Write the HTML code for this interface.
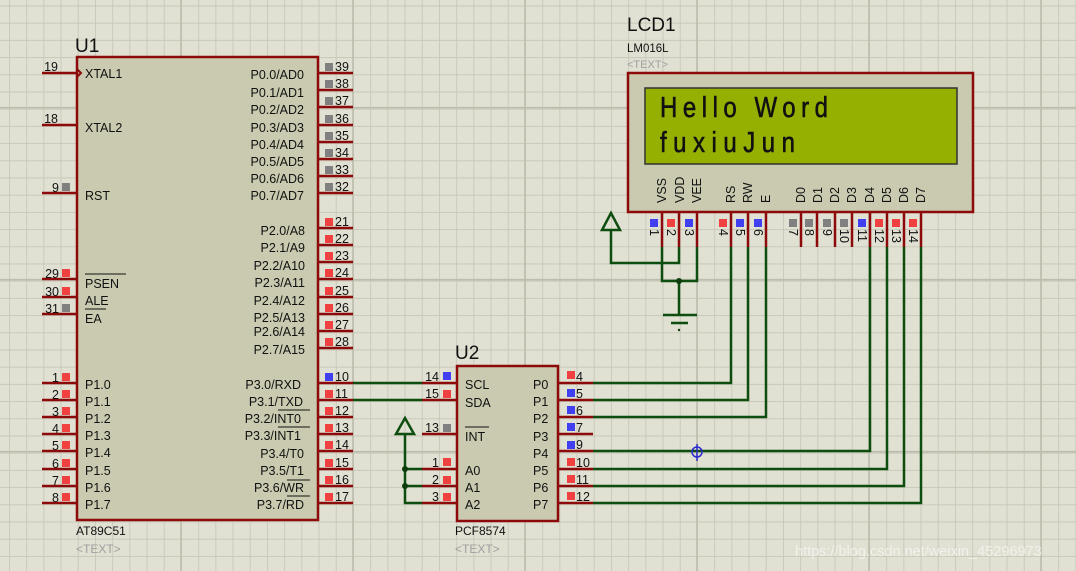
<!DOCTYPE html>
<html><head><meta charset="utf-8"><style>
html,body{margin:0;padding:0;width:1076px;height:571px;overflow:hidden;background:#e0e0d3}
svg{display:block}
text{font-family:"Liberation Sans",sans-serif;fill:#111}
.n{font-size:12.5px}
.l{font-size:12.5px}
.pr{stroke:#8c0a0a;stroke-width:2.5}
.w{stroke:#0d4d0d;stroke-width:2.5;fill:none}
.g{fill:#808080}.r{fill:#f04040}.b{fill:#4040f0}
</style></head><body>
<svg width="1076" height="571" viewBox="0 0 1076 571" xmlns="http://www.w3.org/2000/svg">
<defs>
<pattern id="grid" x="9" y="5.5" width="17.2" height="17.2" patternUnits="userSpaceOnUse">
<path d="M0 0V17.2M0 0H17.2" stroke="#c6c6b6" stroke-width="1.6" fill="none"/>
</pattern>
</defs>
<rect width="1076" height="571" fill="#e0e0d3"/>
<rect width="1076" height="571" fill="url(#grid)"/>
<g stroke="#bdbdad" stroke-width="1.6">
<line x1="181" y1="0" x2="181" y2="571"/><line x1="353" y1="0" x2="353" y2="571"/><line x1="525" y1="0" x2="525" y2="571"/><line x1="697" y1="0" x2="697" y2="571"/><line x1="869" y1="0" x2="869" y2="571"/><line x1="1041" y1="0" x2="1041" y2="571"/>
<line x1="0" y1="107.7" x2="1076" y2="107.7"/><line x1="0" y1="279.7" x2="1076" y2="279.7"/><line x1="0" y1="451.7" x2="1076" y2="451.7"/>
</g>

<!-- U1 -->
<text x="75" y="52" style="font-size:19px">U1</text>
<rect x="77" y="57" width="241" height="463" fill="#cacab0" stroke="#8c0a0a" stroke-width="2.5"/>
<text x="76" y="535" class="l" style="font-size:12px">AT89C51</text>
<text x="76" y="553" style="font-size:12px;fill:#a0a0a0">&lt;TEXT&gt;</text>
<g class="pr">
<line x1="42" y1="73" x2="77" y2="73"/><line x1="42" y1="125" x2="77" y2="125"/><line x1="42" y1="193" x2="77" y2="193"/>
<line x1="42" y1="279" x2="77" y2="279"/><line x1="42" y1="297" x2="77" y2="297"/><line x1="42" y1="314" x2="77" y2="314"/>
<line x1="42" y1="383" x2="77" y2="383"/><line x1="42" y1="400" x2="77" y2="400"/><line x1="42" y1="417" x2="77" y2="417"/><line x1="42" y1="434" x2="77" y2="434"/><line x1="42" y1="451" x2="77" y2="451"/><line x1="42" y1="469" x2="77" y2="469"/><line x1="42" y1="486" x2="77" y2="486"/><line x1="42" y1="503" x2="77" y2="503"/>
<line x1="318" y1="73" x2="353" y2="73"/><line x1="318" y1="90" x2="353" y2="90"/><line x1="318" y1="107" x2="353" y2="107"/><line x1="318" y1="125" x2="353" y2="125"/><line x1="318" y1="142" x2="353" y2="142"/><line x1="318" y1="159" x2="353" y2="159"/><line x1="318" y1="176" x2="353" y2="176"/><line x1="318" y1="193" x2="353" y2="193"/>
<line x1="318" y1="228" x2="353" y2="228"/><line x1="318" y1="245" x2="353" y2="245"/><line x1="318" y1="262" x2="353" y2="262"/><line x1="318" y1="279" x2="353" y2="279"/><line x1="318" y1="297" x2="353" y2="297"/><line x1="318" y1="314" x2="353" y2="314"/><line x1="318" y1="331" x2="353" y2="331"/><line x1="318" y1="348" x2="353" y2="348"/>
<line x1="318" y1="383" x2="353" y2="383"/><line x1="318" y1="400" x2="353" y2="400"/><line x1="318" y1="417" x2="353" y2="417"/><line x1="318" y1="434" x2="353" y2="434"/><line x1="318" y1="451" x2="353" y2="451"/><line x1="318" y1="469" x2="353" y2="469"/><line x1="318" y1="486" x2="353" y2="486"/><line x1="318" y1="503" x2="353" y2="503"/>
</g>
<path d="M77 69 L81 73 L77 77" stroke="#8c0a0a" stroke-width="2" fill="none"/>
<rect class="g" x="62" y="183" width="8" height="8"/>
<rect class="r" x="62" y="269" width="8" height="8"/><rect class="r" x="62" y="287" width="8" height="8"/><rect class="g" x="62" y="304" width="8" height="8"/>
<rect class="r" x="62" y="373" width="8" height="8"/><rect class="r" x="62" y="390" width="8" height="8"/><rect class="r" x="62" y="407" width="8" height="8"/><rect class="r" x="62" y="424" width="8" height="8"/><rect class="r" x="62" y="441" width="8" height="8"/><rect class="r" x="62" y="459" width="8" height="8"/><rect class="r" x="62" y="476" width="8" height="8"/><rect class="r" x="62" y="493" width="8" height="8"/>
<g class="n" text-anchor="end">
<text x="58" y="71">19</text><text x="58" y="123">18</text><text x="59" y="192">9</text>
<text x="59" y="278">29</text><text x="59" y="296">30</text><text x="59" y="313">31</text>
<text x="59" y="382">1</text><text x="59" y="399">2</text><text x="59" y="416">3</text><text x="59" y="433">4</text><text x="59" y="450">5</text><text x="59" y="468">6</text><text x="59" y="485">7</text><text x="59" y="502">8</text>
</g>
<g class="l">
<text x="85" y="78">XTAL1</text><text x="85" y="132">XTAL2</text><text x="85" y="200">RST</text>
<text x="85" y="288">PSEN</text><text x="85" y="305">ALE</text><text x="85" y="323">EA</text>
<text x="85" y="389">P1.0</text><text x="85" y="406">P1.1</text><text x="85" y="423">P1.2</text><text x="85" y="440">P1.3</text><text x="85" y="457">P1.4</text><text x="85" y="475">P1.5</text><text x="85" y="492">P1.6</text><text x="85" y="509">P1.7</text>
</g>
<g stroke="#111" stroke-width="1"><line x1="85" y1="274" x2="126" y2="274"/><line x1="85" y1="309" x2="106" y2="309"/>
<line x1="278" y1="410" x2="310" y2="410"/><line x1="278" y1="427" x2="310" y2="427"/><line x1="287" y1="480" x2="310" y2="480"/><line x1="287" y1="496" x2="310" y2="496"/></g>
<g class="l" text-anchor="end">
<text x="304" y="79">P0.0/AD0</text><text x="304" y="97">P0.1/AD1</text><text x="304" y="114">P0.2/AD2</text><text x="304" y="132">P0.3/AD3</text><text x="304" y="149">P0.4/AD4</text><text x="304" y="166">P0.5/AD5</text><text x="304" y="183">P0.6/AD6</text><text x="304" y="200">P0.7/AD7</text>
<text x="305" y="235">P2.0/A8</text><text x="305" y="252">P2.1/A9</text><text x="305" y="270">P2.2/A10</text><text x="305" y="287">P2.3/A11</text><text x="305" y="305">P2.4/A12</text><text x="305" y="322">P2.5/A13</text><text x="305" y="336">P2.6/A14</text><text x="305" y="354">P2.7/A15</text>
<text x="301" y="389">P3.0/RXD</text><text x="303" y="406">P3.1/TXD</text><text x="301" y="423">P3.2/INT0</text><text x="301" y="440">P3.3/INT1</text><text x="304" y="458">P3.4/T0</text><text x="304" y="475">P3.5/T1</text><text x="304" y="492">P3.6/WR</text><text x="304" y="509">P3.7/RD</text>
</g>
<g>
<rect class="g" x="325" y="63" width="8" height="8"/><rect class="g" x="325" y="80" width="8" height="8"/><rect class="g" x="325" y="97" width="8" height="8"/><rect class="g" x="325" y="115" width="8" height="8"/><rect class="g" x="325" y="132" width="8" height="8"/><rect class="g" x="325" y="149" width="8" height="8"/><rect class="g" x="325" y="166" width="8" height="8"/><rect class="g" x="325" y="183" width="8" height="8"/>
<rect class="r" x="325" y="218" width="8" height="8"/><rect class="r" x="325" y="235" width="8" height="8"/><rect class="r" x="325" y="252" width="8" height="8"/><rect class="r" x="325" y="269" width="8" height="8"/><rect class="r" x="325" y="287" width="8" height="8"/><rect class="r" x="325" y="304" width="8" height="8"/><rect class="r" x="325" y="321" width="8" height="8"/><rect class="r" x="325" y="338" width="8" height="8"/>
<rect class="b" x="325" y="373" width="8" height="8"/><rect class="r" x="325" y="390" width="8" height="8"/><rect class="r" x="325" y="407" width="8" height="8"/><rect class="r" x="325" y="424" width="8" height="8"/><rect class="r" x="325" y="441" width="8" height="8"/><rect class="r" x="325" y="459" width="8" height="8"/><rect class="r" x="325" y="476" width="8" height="8"/><rect class="r" x="325" y="493" width="8" height="8"/>
</g>
<g class="n">
<text x="335" y="71">39</text><text x="335" y="88">38</text><text x="335" y="105">37</text><text x="335" y="123">36</text><text x="335" y="140">35</text><text x="335" y="157">34</text><text x="335" y="174">33</text><text x="335" y="191">32</text>
<text x="335" y="226">21</text><text x="335" y="243">22</text><text x="335" y="260">23</text><text x="335" y="277">24</text><text x="335" y="295">25</text><text x="335" y="312">26</text><text x="335" y="329">27</text><text x="335" y="346">28</text>
<text x="335" y="381">10</text><text x="335" y="398">11</text><text x="335" y="415">12</text><text x="335" y="432">13</text><text x="335" y="449">14</text><text x="335" y="467">15</text><text x="335" y="484">16</text><text x="335" y="501">17</text>
</g>

<path class="w" d="M353 383H422M353 400H422"/>

<!-- U2 -->
<text x="455" y="359" style="font-size:19px">U2</text>
<rect x="457" y="366" width="101" height="155" fill="#cacab0" stroke="#8c0a0a" stroke-width="2.5"/>
<text x="455" y="535" style="font-size:12px">PCF8574</text>
<text x="455" y="553" style="font-size:12px;fill:#a0a0a0">&lt;TEXT&gt;</text>
<g class="pr">
<line x1="422" y1="383" x2="457" y2="383"/><line x1="422" y1="400" x2="457" y2="400"/><line x1="422" y1="434" x2="457" y2="434"/><line x1="422" y1="469" x2="457" y2="469"/><line x1="422" y1="486" x2="457" y2="486"/><line x1="422" y1="503" x2="457" y2="503"/>
<line x1="558" y1="383" x2="593" y2="383"/><line x1="558" y1="400" x2="593" y2="400"/><line x1="558" y1="417" x2="593" y2="417"/><line x1="558" y1="434" x2="593" y2="434"/><line x1="558" y1="451" x2="593" y2="451"/><line x1="558" y1="469" x2="593" y2="469"/><line x1="558" y1="486" x2="593" y2="486"/><line x1="558" y1="503" x2="593" y2="503"/>
</g>
<rect class="b" x="443" y="372" width="8" height="8"/><rect class="r" x="443" y="390" width="8" height="8"/><rect class="g" x="443" y="424" width="8" height="8"/><rect class="r" x="443" y="458" width="8" height="8"/><rect class="r" x="443" y="476" width="8" height="8"/><rect class="r" x="443" y="493" width="8" height="8"/>
<g class="n" text-anchor="end"><text x="439" y="381">14</text><text x="439" y="398">15</text><text x="439" y="432">13</text><text x="439" y="467">1</text><text x="439" y="484">2</text><text x="439" y="501">3</text></g>
<g class="l"><text x="465" y="389">SCL</text><text x="465" y="407">SDA</text><text x="465" y="441">INT</text><text x="465" y="475">A0</text><text x="465" y="492">A1</text><text x="465" y="509">A2</text>
<text x="533" y="389">P0</text><text x="533" y="406">P1</text><text x="533" y="423">P2</text><text x="533" y="441">P3</text><text x="533" y="458">P4</text><text x="533" y="475">P5</text><text x="533" y="492">P6</text><text x="533" y="509">P7</text></g>
<line x1="465" y1="427" x2="489" y2="427" stroke="#111" stroke-width="1"/>
<rect class="r" x="567" y="371" width="8" height="8"/><rect class="b" x="567" y="389" width="8" height="8"/><rect class="b" x="567" y="406" width="8" height="8"/><rect class="b" x="567" y="423" width="8" height="8"/><rect class="b" x="567" y="441" width="8" height="8"/><rect class="r" x="567" y="458" width="8" height="8"/><rect class="r" x="567" y="475" width="8" height="8"/><rect class="r" x="567" y="492" width="8" height="8"/>
<g class="n"><text x="576" y="381">4</text><text x="576" y="398">5</text><text x="576" y="415">6</text><text x="576" y="432">7</text><text x="576" y="449">9</text><text x="576" y="467">10</text><text x="576" y="484">11</text><text x="576" y="501">12</text></g>
<path class="w" d="M405 434V503H422M405 469H422M405 486H422"/>
<path d="M405 418L396 434H414Z" fill="none" stroke="#0d4d0d" stroke-width="2.5"/>
<circle cx="405" cy="469" r="3" fill="#0d3d0d"/><circle cx="405" cy="486" r="3" fill="#0d3d0d"/>

<path class="w" d="M593 383H731V247M593 400H748V247M593 417H766V247M593 451H870V247M593 469H887V247M593 486H904V247M593 503H921V247"/>
<g stroke="#2a2ad0" stroke-width="1.5" fill="none"><circle cx="697" cy="452" r="5"/><line x1="697" y1="444" x2="697" y2="461"/></g>

<!-- LCD -->
<text x="627" y="31" style="font-size:19px">LCD1</text>
<text x="627" y="52" style="font-size:11.5px">LM016L</text>
<text x="627" y="68" style="font-size:11px;fill:#a0a0a0">&lt;TEXT&gt;</text>
<rect x="628" y="73" width="345" height="139" fill="#cacab0" stroke="#8c0a0a" stroke-width="2.5"/>
<rect x="645" y="88" width="312" height="76" fill="#95b000" stroke="#333" stroke-width="1.5"/>
<g style="font-family:'Liberation Mono',monospace;font-size:24px">
<text x="660" y="117" transform="translate(0,-23.4) scale(1,1.2)" textLength="168" lengthAdjust="spacing" style="fill:#111;stroke:#111;stroke-width:0.5">Hello Word</text>
<text x="660" y="152" transform="translate(0,-30.4) scale(1,1.2)" textLength="135" lengthAdjust="spacing" style="fill:#111;stroke:#111;stroke-width:0.5">fuxiuJun</text>
</g>
<g class="pr">
<line x1="662" y1="212" x2="662" y2="247"/><line x1="679" y1="212" x2="679" y2="247"/><line x1="697" y1="212" x2="697" y2="247"/>
<line x1="731" y1="212" x2="731" y2="247"/><line x1="748" y1="212" x2="748" y2="247"/><line x1="766" y1="212" x2="766" y2="247"/>
<line x1="801" y1="212" x2="801" y2="247"/><line x1="817" y1="212" x2="817" y2="247"/><line x1="835" y1="212" x2="835" y2="247"/><line x1="852" y1="212" x2="852" y2="247"/>
<line x1="870" y1="212" x2="870" y2="247"/><line x1="887" y1="212" x2="887" y2="247"/><line x1="904" y1="212" x2="904" y2="247"/><line x1="921" y1="212" x2="921" y2="247"/>
</g>
<g class="l">
<text transform="translate(666,203) rotate(-90)">VSS</text><text transform="translate(684,203) rotate(-90)">VDD</text><text transform="translate(701,203) rotate(-90)">VEE</text>
<text transform="translate(735,203) rotate(-90)">RS</text><text transform="translate(752,203) rotate(-90)">RW</text><text transform="translate(770,203) rotate(-90)">E</text>
<text transform="translate(805,203) rotate(-90)">D0</text><text transform="translate(822,203) rotate(-90)">D1</text><text transform="translate(839,203) rotate(-90)">D2</text><text transform="translate(856,203) rotate(-90)">D3</text>
<text transform="translate(874,203) rotate(-90)">D4</text><text transform="translate(891,203) rotate(-90)">D5</text><text transform="translate(908,203) rotate(-90)">D6</text><text transform="translate(925,203) rotate(-90)">D7</text>
</g>
<rect class="b" x="650" y="219" width="8" height="8"/><rect class="r" x="667" y="219" width="8" height="8"/><rect class="b" x="685" y="219" width="8" height="8"/>
<rect class="r" x="719" y="219" width="8" height="8"/><rect class="b" x="736" y="219" width="8" height="8"/><rect class="b" x="754" y="219" width="8" height="8"/>
<rect class="g" x="789" y="219" width="8" height="8"/><rect class="g" x="805" y="219" width="8" height="8"/><rect class="g" x="823" y="219" width="8" height="8"/><rect class="g" x="840" y="219" width="8" height="8"/>
<rect class="b" x="858" y="219" width="8" height="8"/><rect class="r" x="875" y="219" width="8" height="8"/><rect class="r" x="892" y="219" width="8" height="8"/><rect class="r" x="909" y="219" width="8" height="8"/>
<g class="n">
<text transform="translate(650,229) rotate(90)">1</text><text transform="translate(667,229) rotate(90)">2</text><text transform="translate(685,229) rotate(90)">3</text>
<text transform="translate(719,229) rotate(90)">4</text><text transform="translate(736,229) rotate(90)">5</text><text transform="translate(754,229) rotate(90)">6</text>
<text transform="translate(789,229) rotate(90)">7</text><text transform="translate(805,229) rotate(90)">8</text><text transform="translate(823,229) rotate(90)">9</text><text transform="translate(840,229) rotate(90)">10</text>
<text transform="translate(858,229) rotate(90)">11</text><text transform="translate(875,229) rotate(90)">12</text><text transform="translate(892,229) rotate(90)">13</text><text transform="translate(909,229) rotate(90)">14</text>
</g>
<path class="w" d="M611 230V263H679V247M662 247V281H697V247M679 281V315M663 315H697M671 323H688"/>
<path d="M611 213L602 230H620Z" fill="none" stroke="#0d4d0d" stroke-width="2.5"/>
<circle cx="679" cy="281" r="3" fill="#0d3d0d"/><circle cx="679" cy="330" r="1.2" fill="#0d3d0d"/>

<text x="795" y="556" style="font-size:14.5px;fill:#f4f4f0;fill-opacity:0.85">https://blog.csdn.net/weixin_45296973</text>
</svg>
</body></html>
